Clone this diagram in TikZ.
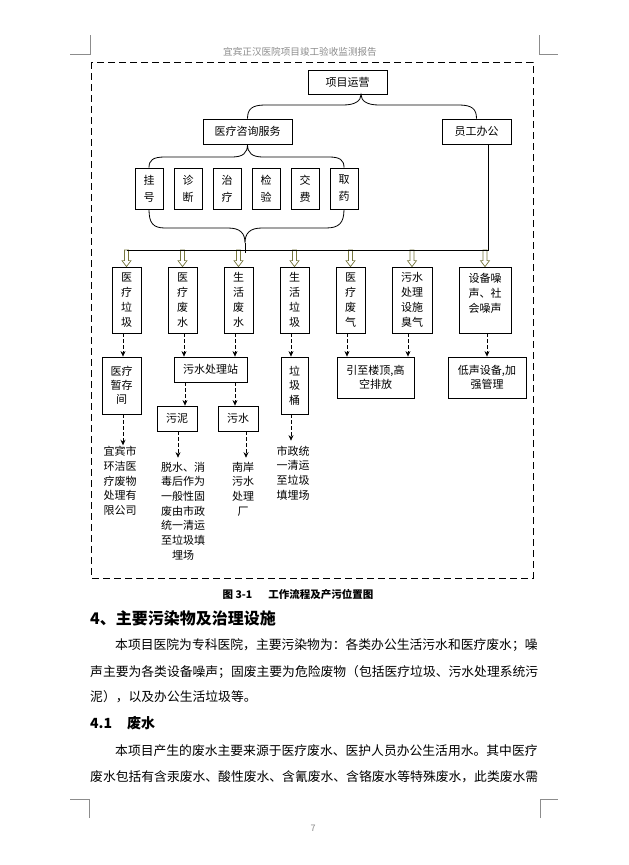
\documentclass[tikz,border=0pt]{standalone}
\usepackage{fontspec}
\setmainfont{Noto Sans CJK SC}
\usetikzlibrary{arrows.meta,calc}
\definecolor{olv}{RGB}{118,118,62}
\definecolor{hdr}{RGB}{140,140,140}
\tikzset{
  box/.style={draw, line width=0.8pt, fill=white, inner sep=0pt, align=center, font=\fontsize{11}{15}\selectfont},
  sbox/.style={box, minimum width=28pt, minimum height=41pt, font=\fontsize{11}{17}\selectfont},
  cbox/.style={box, minimum height=66pt, minimum width=29pt},
  ttext/.style={inner sep=0pt, align=center, font=\fontsize{11}{14.7}\selectfont},
  conn/.style={line width=0.8pt},
  darr/.style={line width=0.75pt, dash pattern=on 3.5pt off 2.5pt, -{Stealth[length=5.5pt,width=5pt]}},
  hollowst/.style={draw=olv, fill=white, line width=0.7pt},
  crop/.style={draw=hdr, line width=0.6pt},
  frame/.style={line width=0.9pt, dash pattern=on 7pt off 4pt},
  bodyline/.style={anchor=west, inner sep=0pt, font=\fontsize{12.8}{14}\selectfont}
}
\newcommand\hollowarr[1]{%
  \draw[hollowst] let \p1=(#1.north), \p2=(busR) in
    (\x1-2pt,\y2) -- (\x1-2pt,\y1+6pt) -- (\x1-4.5pt,\y1+6pt) -- (\x1,\y1)
    -- (\x1+4.5pt,\y1+6pt) -- (\x1+2pt,\y1+6pt) -- (\x1+2pt,\y2) -- cycle;}
\begin{document}
\begin{tikzpicture}[x=1pt,y=-1pt]
\useasboundingbox[fill=white] (0,0) rectangle (629,865);

% page decorations
\node[text=hdr, inner sep=0pt, font=\fontsize{9.6}{10}\selectfont] (hd) at (300,52) {宜宾正汉医院项目竣工验收监测报告};
\draw[crop] (90,35) -- (90,54) -- (70,54);
\draw[crop] (539,35) -- (539,54) -- (558,54);
\draw[crop] (89,818) -- (89,799) -- (70,799);
\draw[crop] (540,818) -- (540,799) -- (558,799);
\node[text=hdr, inner sep=0pt, font=\fontsize{9}{10}\selectfont] (pg) at (313,828) {7};

% dashed frame
\draw[frame] (91,62) rectangle (533,578);

% level 1-2
\node[box, minimum width=79pt, minimum height=24pt] (xm) at (347.5,82) {项目运营};
\node[box, minimum width=89pt, minimum height=25pt] (zx) at (247.5,131.5) {医疗咨询服务};
\node[box, minimum width=69pt, minimum height=25pt] (yg) at (476.5,131.5) {员工办公};

% small boxes
\node[sbox] (s1) at (149,188.5) {挂\\号};
\node[sbox] (s2) at (188,188.5) {诊\\断};
\node[sbox] (s3) at (227,188.5) {治\\疗};
\node[sbox] (s4) at (266,188.5) {检\\验};
\node[sbox] (s5) at (305,188.5) {交\\费};
\node[sbox] (s6) at (344,188.5) {取\\药};

% braces
\draw[conn] (zx.north) .. controls (247.5,109) and (252,105) .. (265,105) -- (343,105)
  .. controls (355,105) and (361,101) .. ([xshift=13.5pt]xm.south)
  .. controls (361,101) and (367,105) .. (379,105) -- (459,105)
  .. controls (472,105) and (476.5,109) .. (yg.north);
\draw[conn] (s1.north) .. controls (149,160) and (153,157) .. (165,157) -- (232,157)
  .. controls (243,157) and (247.5,153) .. (zx.south)
  .. controls (247.5,153) and (252,157) .. (263,157) -- (329,157)
  .. controls (340,157) and (344,160) .. (s6.north);

% level 3 boxes
\node[cbox] (r3a) at (126.5,300) {医\\疗\\垃\\圾};
\node[cbox] (r3b) at (182.5,300) {医\\疗\\废\\水};
\node[cbox] (r3c) at (238.5,300) {生\\活\\废\\水};
\node[cbox] (r3d) at (294.5,300) {生\\活\\垃\\圾};
\node[cbox] (r3e) at (350.5,300) {医\\疗\\废\\气};
\node[cbox, minimum width=40pt] (r3f) at (412,300) {污水\\处理\\设施\\臭气};
\node[cbox, minimum width=52pt] (r3g) at (485,300) {设备噪\\声、社\\会噪声\\\mbox{}};

\coordinate (busR) at (488,250);
\coordinate (tip) at (245,243);
\hollowarr{r3a}
\hollowarr{r3b}
\hollowarr{r3c}
\hollowarr{r3d}
\hollowarr{r3e}
\hollowarr{r3f}
\hollowarr{r3g}
\draw[conn] (s1.south) .. controls (149,223) and (153,228) .. (165,228) -- (228,228)
  .. controls (240,228) and (245,233) .. (tip)
  .. controls (245,233) and (250,228) .. (262,228) -- (326,228)
  .. controls (339,228) and (344,223) .. (s6.south);
\draw[conn] (tip) -- (245,253);
\draw[conn] (yg.south -| busR) -- (busR) -- (r3a.north |- busR);

% level 4
\node[box, minimum width=39pt, minimum height=57pt, font=\fontsize{11}{14}\selectfont] (r4a) at (121.5,385.5) {医疗\\暂存\\间};
\node[box, minimum width=73pt, minimum height=25pt] (r4b) at (210.5,369.5) {污水处理站};
\node[box, minimum width=27pt, minimum height=57pt, font=\fontsize{11}{14.5}\selectfont] (r4c) at (294.5,385.5) {垃\\圾\\桶};
\node[box, minimum width=77pt, minimum height=41pt, font=\fontsize{11}{14}\selectfont] (r4d) at (375.5,377.5) {引至楼顶,高\\空排放};
\node[box, minimum width=78pt, minimum height=41pt, font=\fontsize{11}{14}\selectfont] (r4e) at (487,377.5) {低声设备,加\\强管理};

% level 5
\node[box, minimum width=40pt, minimum height=25pt] (r5a) at (177,418.5) {污泥};
\node[box, minimum width=40pt, minimum height=25pt] (r5b) at (238,418.5) {污水};

% final texts
\node[ttext] (t1) at (120,481) {宜宾市\\环洁医\\疗废物\\处理有\\限公司};
\node[ttext] (t2) at (183,511) {脱水、消\\毒后作为\\一般性固\\废由市政\\统一清运\\至垃圾填\\埋场};
\node[ttext] (t3) at (243,489) {南岸\\污水\\处理\\厂};
\node[ttext] (t4) at (293,473) {市政统\\一清运\\至垃圾\\填埋场};

% dashed arrows
\draw[darr] (r3a.south -| 123,0) -- (r4a.north -| 123,0);
\draw[darr] (r3b.south -| 184,0) -- (r4b.north -| 184,0);
\draw[darr] (r3c.south -| 235,0) -- (r4b.north -| 235,0);
\draw[darr] (r3d.south -| 291,0) -- (r4c.north -| 291,0);
\draw[darr] (r3e.south -| 347,0) -- (r4d.north -| 347,0);
\draw[darr] (r3f.south -| 408,0) -- (r4d.north -| 408,0);
\draw[darr] (r3g.south -| 487,0) -- (r4e.north -| 487,0);
\draw[darr] (r4b.south -| 185,0) -- (r5a.north -| 185,0);
\draw[darr] (r4b.south -| 235,0) -- (r5b.north -| 235,0);
\draw[darr, shorten >=1pt] (r4a.south -| 123,0) -- (t1.north -| 123,0);
\draw[darr, shorten >=4pt] (r5a.south -| 178,0) -- (t2.north -| 178,0);
\draw[darr, shorten >=4pt] (r5b.south -| 246,0) -- (t3.north -| 246,0);
\draw[darr, shorten >=5pt] (r4c.south -| 291,0) -- (t4.north -| 291,0);

% caption and body text
\node[inner sep=0pt, font=\bfseries\fontsize{10.5}{12}\selectfont] (cap) at (298,594) {图 3-1\hspace{16pt}工作流程及产污位置图};
\node[anchor=west, inner sep=0pt, font=\bfseries\fontsize{16}{18}\selectfont] (h1) at (90,618) {4、主要污染物及治理设施};
\node[bodyline] (b1) at (115,645) {本项目医院为专科医院，主要污染物为：各类办公生活污水和医疗废水；噪};
\node[bodyline] (b2) at (90,672) {声主要为各类设备噪声；固废主要为危险废物（包括医疗垃圾、污水处理系统污};
\node[bodyline] (b3) at (90,697) {泥），以及办公生活垃圾等。};
\node[anchor=west, inner sep=0pt, font=\bfseries\fontsize{14}{16}\selectfont] (h2) at (90,723) {4.1\hspace{15pt}废水};
\node[bodyline] (b4) at (115,751) {本项目产生的废水主要来源于医疗废水、医护人员办公生活用水。其中医疗};
\node[bodyline] (b5) at (90,777) {废水包括有含汞废水、酸性废水、含氰废水、含铬废水等特殊废水，此类废水需};
\end{tikzpicture}
\end{document}
